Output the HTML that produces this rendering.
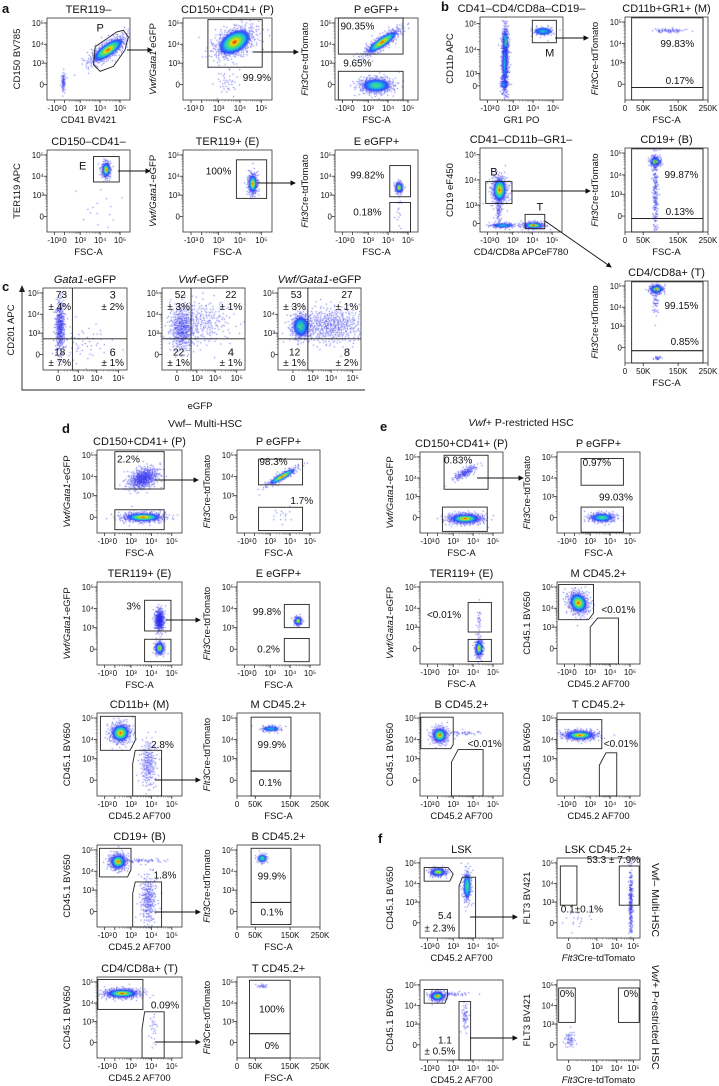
<!DOCTYPE html>
<html><head><meta charset="utf-8">
<style>
html,body{margin:0;padding:0;background:#fff;}
#wrap{position:relative;width:719px;height:1086px;overflow:hidden;}
#dots{position:absolute;left:0;top:0;}
#ov{position:absolute;left:0;top:0;}
text{font-family:"Liberation Sans",Arial,sans-serif;fill:#111;}
</style></head>
<body>
<div id="wrap">
<canvas id="dots" width="719" height="1086"></canvas>
<svg id="ov" width="719" height="1086" xmlns="http://www.w3.org/2000/svg"></svg>
</div>
<script>
// ---- tick data ----
const logTickVals = [-1,0,1,2,3];
const logTickLabels = ['-10³','0','10³','10⁴','10⁵'];
const posTickVals = [0,1,2,3];
const posTickLabels = ['0','10³','10⁴','10⁵'];
const fscTickVals = [0,50,150,250];
const fscTickLabels = ['0','50K','150K','250K'];
const yTickVals = [0,1,2,3];
const yTickLabels = ['0','10³','10⁴','10⁵'];

// ---- populations: [panel, x, y, sx, sy, rotDeg, nDots, heat] (axis units) ----
const populations = [
 ['a1',2.4,1.7,.6,.22,-35,500,.95],['a1',-0.1,0.1,.1,.25,0,60,0],
 ['a2',1.75,2.1,.55,.35,-30,600,1],['a2',1.4,0.1,.3,.3,0,40,0],
 ['a3',1.7,2.1,.6,.15,-35,400,.95],['a3',1.4,-0.05,.45,.2,0,500,.4],
 ['b1',0.5,1.5,.12,.9,0,450,0.1],['b1',0.5,2.3,.1,.25,0,150,.7],['b1',0.45,1.4,.08,.5,0,200,.35],['b1',0.4,0.1,.1,.15,0,80,.3],['b1',2.5,2.7,.3,.1,0,80,.3],
 ['b2',125,2.6,25,.05,0,60,.25],
 ['a4',2.3,2.3,.12,.2,0,250,1],['a4',1.9,0.3,.6,.5,0,15,0],
 ['a5',2.6,1.6,.12,.3,0,300,1],
 ['a6',2.55,1.4,.1,.15,0,200,1],['a6',2.55,.2,.08,.4,0,15,0],
 ['b3',0.15,1.6,.3,.3,0,400,1],['b3',2.05,-0.1,.3,.1,0,250,1],['b3',0.35,-0.1,.45,.08,0,120,.3],['b3',0.1,0.7,.1,.35,0,60,0],
 ['b4',85,2.6,8,.12,0,200,1],['b4',85,1.1,4,1.2,0,200,0],
 ['b5',88,2.85,10,.1,0,250,1],['b5',85,2.3,5,.4,0,50,0],['b5',90,-0.5,6,.05,0,20,0],
 ['c1',0.1,1.35,.12,.7,0,350,.1],['c1',1.2,0.5,.8,.5,0,60,0],
 ['c2',0.25,1.2,.3,.6,0,400,.1],['c2',1.3,1.6,.8,.6,0,250,0],
 ['c3',0.4,1.35,.25,.35,0,350,.6],['c3',2.0,1.4,.9,.5,0,500,0],
 ['d1',1.6,1.9,.4,.25,-25,500,.1],['d1',1.6,0,.55,.12,0,500,1],
 ['d2',1.6,2.0,.5,.1,-30,200,.95],['d2',1.6,0.1,.3,.2,0,15,0],
 ['d3',2.4,1.4,.12,.3,0,350,.1],['d3',2.4,0.05,.12,.15,0,250,1],
 ['d4',2.4,1.35,.1,.12,0,150,1],
 ['d5',0.35,2.3,.35,.25,-15,400,1],['d5',1.85,.75,.2,.6,0,200,.05],
 ['d6',95,2.5,15,.08,0,100,.3],
 ['d7',0.2,2.45,.3,.2,0,400,1],['d7',1.5,2.5,.6,.05,0,50,0],['d7',1.85,.55,.2,.6,0,250,.1],
 ['d8',70,2.6,8,.12,0,80,.6],
 ['d9',0.45,2.45,.6,.12,0,500,1],['d9',2.1,.7,.1,.5,0,25,0],
 ['d10',70,2.8,8,.05,0,20,0],
 ['e1',1.6,2.25,.35,.1,-30,150,.2],['e1',1.6,-0.05,.45,.13,0,600,1],
 ['e2',1.6,0,.35,.12,0,300,.5],
 ['e3',2.3,0,.1,.2,0,300,1],['e3',2.3,1.3,.05,.4,0,25,0],
 ['e4',0.25,2.25,.35,.3,-30,450,1],
 ['e5',0.15,2.2,.3,.2,0,350,1],['e5',1.5,2.3,.5,.05,0,40,0],
 ['e6',0.35,2.2,.6,.12,0,500,1],
 ['f1',0.05,2.55,.3,.1,0,300,1],['f1',1.7,1.85,.12,.45,0,200,.5],
 ['f2',2.85,1.0,.06,1.0,0,220,.1],['f2',0.3,.2,.3,.3,0,20,0],
 ['f3',0,2.45,.3,.12,0,300,1],['f3',1.0,2.55,.5,.05,0,40,0],['f3',1.6,1.4,.08,.4,0,50,0],
 ['f4',0.05,0.25,.1,.2,0,50,0]
];

// ---- printed gate values: [panel, text, fx, fy] ----
const gateValues = [
 ['a1','P',.64,.13],['a2','99.9%',.83,.74],['a3','90.35%',.27,.11],['a3','9.65%',.27,.56],
 ['b1','M',.84,.44],['b2','99.83%',.63,.33],['b2','0.17%',.66,.78],
 ['a4','E',.43,.2],['a5','100%',.40,.27],['a6','99.82%',.39,.32],['a6','0.18%',.39,.77],
 ['b3','B',.17,.29],['b3','T',.73,.71],['b4','99.87%',.68,.33],['b4','0.13%',.66,.77],
 ['b5','99.15%',.68,.31],['b5','0.85%',.72,.75],
 ['c1','73',.22,.09],['c1','± 4%',.2,.24],['c1','3',.83,.09],['c1','± 2%',.83,.24],['c1','18',.2,.79],['c1','± 7%',.2,.92],['c1','6',.83,.79],['c1','± 1%',.83,.92],
 ['c2','52',.22,.09],['c2','± 3%',.2,.24],['c2','22',.83,.09],['c2','± 1%',.83,.24],['c2','22',.2,.79],['c2','± 1%',.2,.92],['c2','4',.83,.79],['c2','± 1%',.83,.92],
 ['c3','53',.22,.09],['c3','± 3%',.2,.24],['c3','27',.83,.09],['c3','± 1%',.83,.24],['c3','12',.2,.79],['c3','± 1%',.2,.92],['c3','8',.83,.79],['c3','± 2%',.83,.92],
 ['d1','2.2%',.37,.12],['d2','98.3%',.44,.15],['d2','1.7%',.78,.62],['d3','3%',.43,.30],
 ['d4','99.8%',.36,.37],['d4','0.2%',.38,.82],['d5','2.8%',.77,.39],['d6','99.9%',.42,.39],['d6','0.1%',.40,.85],
 ['d7','1.8%',.8,.38],['d8','99.9%',.42,.39],['d8','0.1%',.42,.83],['d9','0.09%',.8,.36],['d10','100%',.42,.41],['d10','0%',.42,.86],
 ['e1','0.83%',.46,.11],['e2','0.97%',.48,.14],['e2','99.03%',.71,.57],['e3','<0.01%',.29,.41],
 ['e4','<0.01%',.74,.35],['e5','<0.01%',.78,.38],['e6','<0.01%',.77,.38],
 ['f1','5.4',.30,.73],['f1','± 2.3%',.24,.89],['f2','53.3 ± 7.9%',.68,.03],['f2','0.1±0.1%',.30,.65],
 ['f3','1.1',.30,.76],['f3','± 0.5%',.24,.9],['f4','0%',.12,.18],['f4','0%',.89,.18]
];

const XMAP={log:[[-1,.09],[0,.21],[1,.40],[2,.64],[3,.88]],c:[[0,.18],[1,.42],[2,.64],[3,.90]],f:[[0,.14],[1,.48],[2,.72],[3,.92]],fsc:[[0,0],[50,.22],[150,.64],[250,1]]};
const YMAP={log:[[0,.19],[1,.45],[2,.68],[3,.94]],b1:[[0,.17],[1,.32],[2,.61],[3,.92]],b3:[[0,.1],[1,.32],[2,.62],[3,.92]]};
const VW='*Vwf/Gata1*-eGFP', FL='*Flt3*Cre-tdTomato', C2='CD45.2 AF700', C1='CD45.1 BV650';
const panels=[
 {id:'a1',b:[47,18,130,100],t:'TER119–',xl:'CD41 BV421',yl:'CD150 BV785'},
 {id:'a2',b:[183,18,272,100],t:'CD150+CD41+ (P)',xl:'FSC-A',yl:'*Vwf/Gata1* eGFP'},
 {id:'a3',b:[335,18,418,100],t:'P eGFP+',xl:'FSC-A',yl:FL},
 {id:'b1',b:[480,17,563,100],t:'CD41–CD4/CD8a–CD19–',xl:'GR1 PO',yl:'CD11b APC',ym:'b1'},
 {id:'b2',b:[625,17,708,100],t:'CD11b+GR1+ (M)',xl:'FSC-A',yl:FL,xm:'fsc'},
 {id:'a4',b:[47,150,130,232],t:'CD150–CD41–',xl:'FSC-A',yl:'TER119 APC'},
 {id:'a5',b:[183,150,272,232],t:'TER119+ (E)',xl:'FSC-A',yl:VW},
 {id:'a6',b:[335,150,418,232],t:'E eGFP+',xl:'FSC-A',yl:FL},
 {id:'b3',b:[480,148,562,232],t:'CD41–CD11b–GR1–',xl:'CD4/CD8a APCeF780',yl:'CD19 eF450',ym:'b3'},
 {id:'b4',b:[625,148,708,232],t:'CD19+ (B)',xl:'FSC-A',yl:FL,xm:'fsc'},
 {id:'b5',b:[625,281,708,363],t:'CD4/CD8a+ (T)',xl:'FSC-A',yl:FL,xm:'fsc'},
 {id:'c1',b:[43,288,127,370],t:'*Gata1*-eGFP',xl:'',yl:'',xm:'c'},
 {id:'c2',b:[162,288,245,370],t:'*Vwf*-eGFP',xl:'',yl:'',xm:'c'},
 {id:'c3',b:[278,288,361,370],t:'*Vwf/Gata1*-eGFP',xl:'',yl:'',xm:'c'},
 {id:'d1',b:[97,450,182,533],t:'CD150+CD41+ (P)',xl:'FSC-A',yl:VW},
 {id:'d2',b:[237,450,320,533],t:'P eGFP+',xl:'FSC-A',yl:FL},
 {id:'d3',b:[97,582,182,665],t:'TER119+ (E)',xl:'FSC-A',yl:VW},
 {id:'d4',b:[237,582,320,665],t:'E eGFP+',xl:'FSC-A',yl:FL},
 {id:'d5',b:[97,713,182,796],t:'CD11b+ (M)',xl:C2,yl:C1},
 {id:'d6',b:[237,713,320,796],t:'M CD45.2+',xl:'FSC-A',yl:FL,xm:'fsc'},
 {id:'d7',b:[97,845,182,927],t:'CD19+ (B)',xl:C2,yl:C1},
 {id:'d8',b:[237,845,320,927],t:'B CD45.2+',xl:'FSC-A',yl:FL,xm:'fsc'},
 {id:'d9',b:[97,977,182,1058],t:'CD4/CD8a+ (T)',xl:C2,yl:C1},
 {id:'d10',b:[237,977,320,1058],t:'T CD45.2+',xl:'FSC-A',yl:FL,xm:'fsc'},
 {id:'e1',b:[420,452,503,533],t:'CD150+CD41+ (P)',xl:'FSC-A',yl:VW},
 {id:'e2',b:[557,452,640,533],t:'P eGFP+',xl:'FSC-A',yl:FL},
 {id:'e3',b:[420,582,503,664],t:'TER119+ (E)',xl:'FSC-A',yl:VW},
 {id:'e4',b:[557,582,640,664],t:'M CD45.2+',xl:C2,yl:C1},
 {id:'e5',b:[420,713,503,796],t:'B CD45.2+',xl:C2,yl:C1},
 {id:'e6',b:[557,713,640,796],t:'T CD45.2+',xl:C2,yl:C1},
 {id:'f1',b:[420,858,503,938],t:'LSK',xl:C2,yl:C1},
 {id:'f2',b:[557,858,640,938],t:'LSK CD45.2+',xl:FL,yl:'FLT3 BV421',xm:'f'},
 {id:'f3',b:[420,980,503,1060],t:'',xl:C2,yl:C1},
 {id:'f4',b:[557,980,640,1060],t:'',xl:FL,yl:'FLT3 BV421',xm:'f'}
];
const gates=[
 ['a1','poly',[[.58,.35],[.84,.17],[.92,.15],[.98,.23],[.94,.39],[.80,.59],[.64,.65],[.56,.57]]],
 ['a2','rect',[.28,.02,.89,.6]],['a3','rect',[.04,0,.82,.44]],['a3','rect',[.04,.65,.82,1]],
 ['b1','rect',[.63,.04,.92,.31]],['b2','rect',[.08,.01,.94,.85]],['b2','rect',[.08,.85,.94,1]],
 ['a4','rect',[.56,.08,.87,.39]],['a5','rect',[.6,.12,.94,.59]],['a6','rect',[.66,.19,.91,.57]],['a6','rect',[.66,.64,.91,1]],
 ['b3','rect',[.07,.4,.39,.66]],['b3','rect',[.55,.79,.79,.96]],['b4','rect',[.08,.01,.94,.84]],['b4','rect',[.08,.84,.94,1]],
 ['b5','rect',[.08,.01,.94,.85]],['b5','rect',[.08,.85,.94,1]],
 ['c1','line',[.35,0,.35,1]],['c1','line',[0,.62,1,.62]],['c2','line',[.35,0,.35,1]],['c2','line',[0,.62,1,.62]],['c3','line',[.36,0,.36,1]],['c3','line',[0,.62,1,.62]],
 ['d1','rect',[.21,.02,.79,.47]],['d1','rect',[.21,.72,.79,.96]],['d2','rect',[.26,.11,.79,.42]],['d2','rect',[.26,.69,.79,.97]],
 ['d3','rect',[.56,.22,.87,.59]],['d3','rect',[.56,.69,.87,.96]],['d4','rect',[.57,.27,.87,.55]],['d4','rect',[.57,.68,.87,.96]],
 ['d5','poly',[[.04,.04],[.45,.04],[.45,.33],[.39,.45],[.04,.45]]],['d5','poly',[[.45,.45],[.76,.45],[.76,1],[.42,1],[.42,.61]]],
 ['d6','rect',[.17,.05,.65,.7]],['d6','rect',[.17,.7,.65,1]],
 ['d7','poly',[[.03,.04],[.4,.04],[.4,.3],[.36,.39],[.03,.39]]],['d7','poly',[[.45,.45],[.76,.45],[.76,1],[.42,1],[.42,.59]]],
 ['d8','rect',[.17,.04,.65,.70]],['d8','rect',[.17,.70,.65,.97]],
 ['d9','rect',[.01,.03,.54,.40]],['d9','poly',[[.56,.43],[.79,.43],[.79,1],[.53,1],[.53,.64]]],
 ['d10','rect',[.15,.04,.64,.70]],['d10','rect',[.15,.70,.64,1]],
 ['e1','rect',[.29,.04,.82,.46]],['e1','rect',[.27,.68,.81,.98]],['e2','rect',[.29,.08,.80,.41]],['e2','rect',[.29,.68,.80,.99]],
 ['e3','rect',[.58,.25,.86,.61]],['e3','rect',[.58,.70,.86,.97]],
 ['e4','poly',[[.02,.03],[.44,.03],[.44,.38],[.38,.46],[.02,.46]]],['e4','poly',[[.49,.44],[.74,.44],[.74,1],[.40,1],[.40,.55]]],
 ['e5','poly',[[.01,.05],[.40,.05],[.40,.38],[.37,.43],[.01,.43]]],['e5','poly',[[.46,.44],[.76,.44],[.76,1],[.38,1],[.38,.59]]],
 ['e6','rect',[0,.08,.54,.43]],['e6','poly',[[.59,.48],[.72,.48],[.72,1],[.51,1],[.51,.63]]],
 ['f1','poly',[[.05,.12],[.34,.12],[.40,.2],[.36,.29],[.05,.29]]],['f1','poly',[[.51,.24],[.67,.24],[.67,1],[.47,1],[.47,.35]]],
 ['f2','rect',[.04,.10,.24,.59]],['f2','rect',[.75,.10,.99,.59]],
 ['f3','poly',[[.05,.12],[.33,.12],[.33,.21],[.30,.29],[.05,.29]]],['f3','poly',[[.47,.27],[.61,.27],[.61,1],[.47,1]]],
 ['f4','rect',[.02,.10,.22,.53]],['f4','rect',[.74,.10,.99,.53]]
];
const arrows=[[127,50,152,50],[253,52,298,52],[555,38,588,38],[118,171,150,171],[257,183,295,183],[511,191,590,191],[545,221,611,267],
 [155,480,198,480],[166,620,200,620],[155,780,200,780],[155,912,200,912],[155,1042,200,1042],[477,478,523,478],[470,917,517,917],[470,1038,517,1038]];

const NS='http://www.w3.org/2000/svg';
const svg=document.getElementById('ov');
const ctx=document.getElementById('dots').getContext('2d');
function pw(pts,v){let i=0;while(i<pts.length-2&&v>pts[i+1][0])i++;const a=pts[i],b=pts[i+1];return a[1]+(v-a[0])*(b[1]-a[1])/(b[0]-a[0]);}
function mk(tag,attrs,parent){const e=document.createElementNS(NS,tag);for(const k in attrs)e.setAttribute(k,attrs[k]);(parent||svg).appendChild(e);return e;}
function richText(el,str){str.split('*').forEach((s,i)=>{if(!s)return;const t=document.createElementNS(NS,'tspan');if(i%2)t.setAttribute('font-style','italic');t.textContent=s;el.appendChild(t);});}
const P={};
panels.forEach(p=>{
 const [x0,y0,x1,y1]=p.b,w=x1-x0,h=y1-y0;
 p.xm=p.xm||'log';p.ym=p.ym||'log';
 p.X=v=>x0+pw(XMAP[p.xm],v)*w;
 p.Y=v=>y1-pw(YMAP[p.ym],v)*h;
 p.FX=f=>x0+f*w;p.FY=f=>y0+f*h;
 P[p.id]=p;
 const g=mk('g',{});
 
 
 p.g=g;
 const fr=mk('rect',{x:x0,y:y0,width:w,height:h,fill:'none',stroke:'#333','stroke-width':0.8},g);
 
 
 if(p.t){const t=mk('text',{x:(x0+x1)/2,y:y0-5,'text-anchor':'middle','font-size':11},g);richText(t,p.t);
  
  }
 let tv,tl;
 if(p.xm==='log'){tv=logTickVals;tl=logTickLabels;}else if(p.xm==='fsc'){tv=fscTickVals;tl=fscTickLabels;}else{tv=posTickVals;tl=posTickLabels;}
 tv.forEach((v,i)=>{const xx=p.X(v);mk('line',{x1:xx,y1:y1,x2:xx,y2:y1+3,stroke:'#333','stroke-width':0.8},g);
  const t=mk('text',{x:xx,y:y1+11,'text-anchor':'middle','font-size':8},g);t.textContent=tl[i];
  
  
  if(p.xm!=='fsc'&&i<tv.length-1&&v>=0){for(let m=2;m<10;m++){const mx=p.X(v+Math.log10(m));mk('line',{x1:mx,y1:y1,x2:mx,y2:y1+1.5,stroke:'#555','stroke-width':0.5},g);}}
 });
 yTickVals.forEach((v,i)=>{const yy=p.Y(v);mk('line',{x1:x0-3,y1:yy,x2:x0,y2:yy,stroke:'#333','stroke-width':0.8},g);
  const t=mk('text',{x:x0-3,y:yy+3,'text-anchor':'end','font-size':8},g);t.textContent=yTickLabels[i];
  
  
  if(i<yTickVals.length-1&&v>=0){for(let m=2;m<10;m++){const my=p.Y(v+Math.log10(m));mk('line',{x1:x0-1.5,y1:my,x2:x0,y2:my,stroke:'#555','stroke-width':0.5},g);}}
 });
 if(p.xl){const t=mk('text',{x:(x0+x1)/2,y:y1+23,'text-anchor':'middle','font-size':9.5},g);richText(t,p.xl);
  
  }
 if(p.yl){const cx=x0-27,cy=(y0+y1)/2;const t=mk('text',{x:cx,y:cy,'text-anchor':'middle','font-size':9.5,transform:`rotate(-90 ${cx} ${cy})`},g);richText(t,p.yl);
  
  }
});
const heatCols=['#d40000','#ffd800','#5ce05c','#18c8d8','#2850ff'];
function halton(i,b){let f=1,r=0;while(i>0){f/=b;r+=f*(i%b);i=Math.floor(i/b);}return r;}
let seedOff=1;
populations.forEach(pp=>{
 const p=P[pp[0]];const [x0,y0,x1,y1]=p.b;
 const cx=p.X(pp[1]),cy=p.Y(pp[2]);
 const sxp=Math.abs(p.X(pp[1]+pp[3])-p.X(pp[1]-pp[3]))/2, syp=Math.abs(p.Y(pp[2]+pp[4])-p.Y(pp[2]-pp[4]))/2;
 const rot=pp[5]*Math.PI/180,n=pp[6],heat=pp[7];
 ctx.save();ctx.beginPath();ctx.rect(x0,y0,x1-x0,y1-y0);ctx.clip();
 ctx.fillStyle='rgba(40,40,235,0.85)';
 for(let i=0;i<n;i++){
  const u1=Math.max(1e-4,halton(i+seedOff,2)),u2=halton(i+seedOff,3);
  const r=Math.sqrt(-2*Math.log(u1)),a=2*Math.PI*u2;
  const gx=r*Math.cos(a)*sxp,gy=r*Math.sin(a)*syp;
  const px=cx+gx*Math.cos(rot)-gy*Math.sin(rot),py=cy+gx*Math.sin(rot)+gy*Math.cos(rot);
  ctx.fillRect(px-0.5,py-0.5,1,1);
 }
 seedOff+=n+7;
 if(heat>=0.3){
  const st=Math.min(4,Math.round((1-heat)*4));const cols=heatCols.slice(st);
  ctx.translate(cx,cy);ctx.rotate(rot);ctx.scale(Math.max(sxp,1)*1.5,Math.max(syp,1)*1.5);
  const gr=ctx.createRadialGradient(0,0,0,0,0,1);
  cols.forEach((c,i)=>gr.addColorStop(cols.length>1?i*0.8/(cols.length-1):0,c));
  gr.addColorStop(0.92,'rgba(40,60,255,0.6)');gr.addColorStop(1,'rgba(40,60,255,0)');
  ctx.fillStyle=gr;ctx.beginPath();ctx.arc(0,0,1,0,2*Math.PI);ctx.fill();
 }
 ctx.restore();
});
gates.forEach(gt=>{const p=P[gt[0]];let e;
 if(gt[1]==='rect'){const [a,b,c,d]=gt[2];e=mk('rect',{x:p.FX(a),y:p.FY(b),width:p.FX(c)-p.FX(a),height:p.FY(d)-p.FY(b),fill:'none',stroke:'#222','stroke-width':0.9},p.g);}
 else if(gt[1]==='poly'){e=mk('polygon',{points:gt[2].map(q=>p.FX(q[0])+','+p.FY(q[1])).join(' '),fill:'none',stroke:'#222','stroke-width':0.9},p.g);}
 else{const [a,b,c,d]=gt[2];e=mk('line',{x1:p.FX(a),y1:p.FY(b),x2:p.FX(c),y2:p.FY(d),stroke:'#222','stroke-width':0.9},p.g);}
 
 
});
gateValues.forEach(gv=>{const p=P[gv[0]];const big=(gv[1].length===1);
 const t=mk('text',{x:p.FX(gv[2]),y:p.FY(gv[3]),'text-anchor':'middle','dominant-baseline':'central','font-size':big?11:10},p.g);t.textContent=gv[1];
 
 
});
const defs=mk('defs',{});const mkr=mk('marker',{id:'ah',markerWidth:6,markerHeight:6,refX:5,refY:3,orient:'auto'},defs);mk('path',{d:'M0,0 L6,3 L0,6 z',fill:'#111'},mkr);
arrows.forEach(a=>{const l=mk('line',{x1:a[0],y1:a[1],x2:a[2],y2:a[3],stroke:'#111','stroke-width':0.9,'marker-end':'url(#ah)'});
 
 });
function txt(x,y,s,size,opts,name){const t=mk('text',Object.assign({x:x,y:y,'font-size':size},opts||{}));richText(t,s);
 
 return t;}
txt(2,13,'a',13,{'font-weight':'bold'},'panel-letter-a');
txt(441,11,'b',13,{'font-weight':'bold'},'panel-letter-b');
txt(2,291,'c',13,{'font-weight':'bold'},'panel-letter-c');
txt(62,433,'d',13,{'font-weight':'bold'},'panel-letter-d');
txt(380,431,'e',13,{'font-weight':'bold'},'panel-letter-e');
txt(378,843,'f',13,{'font-weight':'bold'},'panel-letter-f');
txt(205,427,'Vwf– Multi-HSC',10.5,{'text-anchor':'middle'},'section-d-title');
txt(521,426,'*Vwf*+ P-restricted HSC',10.5,{'text-anchor':'middle'},'section-e-title');
txt(200,409,'eGFP',9.5,{'text-anchor':'middle'},'c-x-axis-title');
txt(14,330,'CD201 APC',9.5,{'text-anchor':'middle',transform:'rotate(-90 14 330)'},'c-y-axis-title');
txt(652,900,'Vwf– Multi-HSC',10.5,{'text-anchor':'middle',transform:'rotate(90 652 900)'},'f-row1-label');
txt(652,1017,'*Vwf*+ P-restricted HSC',10.5,{'text-anchor':'middle',transform:'rotate(90 652 1017)'},'f-row2-label');
const ax=mk('path',{d:'M22,290 L22,390 L365,390',fill:'none',stroke:'#222','stroke-width':0.9});


const ah=mk('path',{d:'M19,292 L22,285 L25,292 z',fill:'#222'});


</script>
</body></html>
